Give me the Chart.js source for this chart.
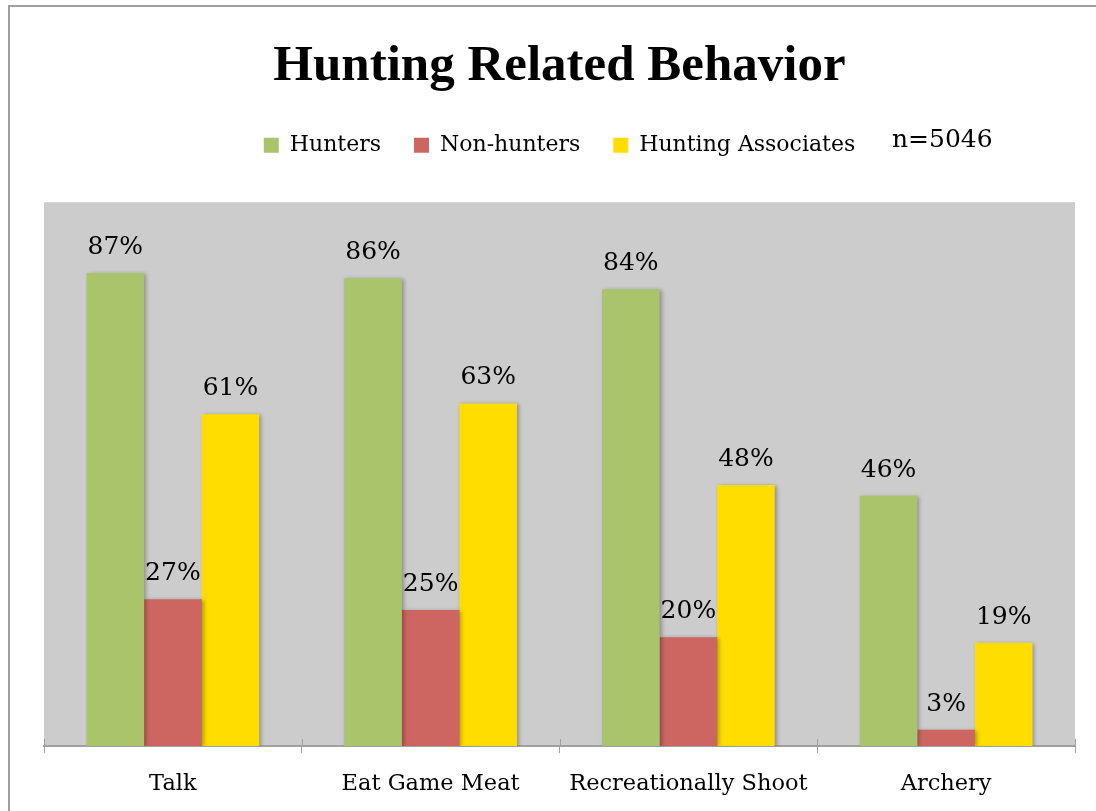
<!DOCTYPE html>
<html>
<head>
<meta charset="utf-8">
<script src="https://cdn.jsdelivr.net/npm/chart.js@4.4.0/dist/chart.umd.min.js"></script>
<style>
	html, body { margin: 0; padding: 0; background: #fff; overflow: hidden; }
	#frame { position: absolute; left: 8px; top: 5px; width: 1200px; height: 900px; border: 2px solid #a0a0a0; }
	#wrap { position: absolute; left: 0; top: 0; width: 1096px; height: 811px; }
</style>
</head>
<body>
<div id="frame"></div>
<div id="wrap"><canvas id="myChart" width="1096" height="811"></canvas></div>
<script>
var categories = ['Talk', 'Eat Game Meat', 'Recreationally Shoot', 'Archery'];
var hunters = [87, 86, 84, 46];
var nonHunters = [27, 25, 20, 3];
var associates = [61, 63, 48, 19];
var sampleNote = 'n=5046';

var serif = "'DejaVu Serif', serif";

// gray plot area + bar shadow
var plotBg = {
	id: 'plotBg',
	beforeInit: function(chart) {
		// extra room under the legend
		var fit = chart.legend.fit;
		chart.legend.fit = function() {
			fit.bind(chart.legend)();
			this.height += 36;
		};
	},
	beforeDraw: function(chart) {
		var a = chart.chartArea, ctx = chart.ctx;
		ctx.save();
		ctx.fillStyle = '#cccccc';
		ctx.fillRect(a.left, a.top, a.right - a.left, a.bottom - a.top);
		ctx.restore();
	},
	beforeDatasetsDraw: function(chart) {
		var ctx = chart.ctx;
		ctx.save();
		ctx.shadowColor = 'rgba(0,0,0,0.3)';
		ctx.shadowBlur = 4;
		ctx.shadowOffsetX = 2;
		ctx.shadowOffsetY = 1;
	},
	afterDatasetsDraw: function(chart) {
		chart.ctx.restore();
	}
};

// percent labels over bars, upper half of the tick marks, the n= note
var labels = {
	id: 'labels',
	afterDraw: function(chart) {
		var ctx = chart.ctx;
		var xs = chart.scales.x;
		var half = (xs.getPixelForValue(1) - xs.getPixelForValue(0)) / 2;
		ctx.save();
		ctx.strokeStyle = '#a0a0a0';
		ctx.lineWidth = 1;
		for (var i = 0; i <= categories.length; i++) {
			var x = Math.round(xs.getPixelForValue(i) - half) + 0.5;
			ctx.beginPath();
			ctx.moveTo(x, xs.top - 7);
			ctx.lineTo(x, xs.top);
			ctx.stroke();
		}
		ctx.font = '25px ' + serif;
		ctx.fillStyle = '#000';
		ctx.textAlign = 'center';
		ctx.textBaseline = 'alphabetic';
		chart.data.datasets.forEach(function(ds, i) {
			chart.getDatasetMeta(i).data.forEach(function(bar, j) {
				ctx.fillText(ds.data[j] + '%', bar.x, bar.y - 19);
			});
		});
		ctx.textAlign = 'left';
		ctx.textBaseline = 'middle';
		ctx.font = '25px ' + serif;
		ctx.fillText(sampleNote, 892, 140);
		ctx.restore();
	}
};

var ctx = document.getElementById('myChart').getContext('2d');
var chart = new Chart(ctx, {
	type: 'bar',
	data: {
		labels: categories,
		datasets: [
			{ label: 'Hunters', data: hunters, backgroundColor: '#aac46b' },
			{ label: 'Non-hunters', data: nonHunters, backgroundColor: '#cd6660' },
			{ label: 'Hunting Associates', data: associates, backgroundColor: '#ffdd00' }
		]
	},
	options: {
		responsive: false,
		animation: false,
		layout: { padding: { left: 44, right: 21, top: 0, bottom: 0 } },
		datasets: { bar: { categoryPercentage: 0.67, barPercentage: 1.0 } },
		plugins: {
			title: {
				display: true,
				text: 'Hunting Related Behavior',
				color: '#000',
				font: { family: "'Liberation Serif', serif", size: 51, weight: 'bold' },
				padding: { top: 36, bottom: 4 }
			},
			legend: {
				display: true,
				labels: {
					color: '#000',
					font: { family: serif, size: 22 },
					boxWidth: 15,
					boxHeight: 15,
					padding: 33
				}
			},
			tooltip: { enabled: false }
		},
		scales: {
			x: {
				afterFit: function(scale) { scale.height = 65; },
				grid: { display: true, drawOnChartArea: false, drawTicks: true, tickLength: 7, color: '#a0a0a0', offset: true },
				border: { display: true, color: '#a0a0a0', width: 2 },
				ticks: { color: '#000', font: { family: serif, size: 22.5 }, padding: 18 }
			},
			y: {
				display: false,
				min: 0,
				max: 100
			}
		}
	},
	plugins: [plotBg, labels]
});
</script>
</body>
</html>
